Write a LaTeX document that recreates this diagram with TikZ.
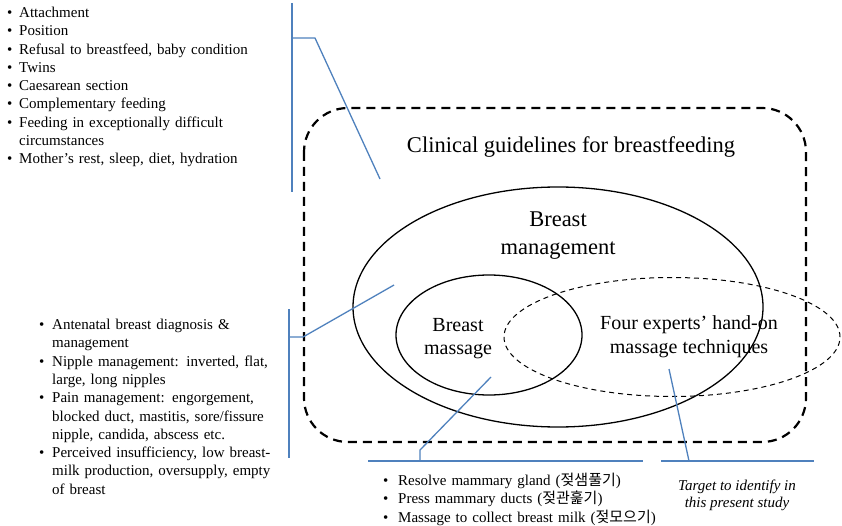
\documentclass[tikz,border=0pt]{standalone}
\usepackage{fontspec}
\setmainfont{Liberation Serif}
\newfontfamily\kofont{Noto Sans CJK KR}
\usetikzlibrary{shapes.geometric}
\definecolor{bracketblue}{RGB}{79,129,189}
\newcommand{\bitem}[2][12pt]{\par\hangindent=#1\hangafter=1\noindent\makebox[#1][l]{\textbullet}#2}
\newcommand{\firststrut}[1]{\rule{0pt}{#1}}
\begin{document}
\begin{tikzpicture}[x=1pt,y=-1pt,
  listtext/.style={inner sep=0pt, anchor=north west, align=left, font=\fontsize{15}{18.3}\selectfont},
  bigtext/.style={inner sep=0pt, anchor=north, align=center},
  blueline/.style={draw=bracketblue, line width=1.3pt},
  solidell/.style={ellipse, draw, line width=1.3pt, inner sep=0pt},
  dashell/.style={ellipse, draw, line width=1pt, dash pattern=on 5pt off 4pt, inner sep=0pt},
  guidebox/.style={draw, line width=2.2pt, dash pattern=on 9pt off 6pt, rounded corners=44pt}
]
\useasboundingbox (0,0) rectangle (842,526);

% dashed guidelines frame
\draw[guidebox] (304,108) rectangle (806,442);
\node[bigtext, font=\fontsize{22.5}{27}\selectfont] (title) at (571,134) {\firststrut{18pt}Clinical guidelines for breastfeeding};

% ellipses
\node[solidell, minimum width=410pt, minimum height=240pt] (bm) at (558,307) {};
\node[solidell, minimum width=186pt, minimum height=120pt] (bmas) at (489,335) {};
\node[dashell, minimum width=336pt, minimum height=119pt] (four) at (672,337) {};

\node[bigtext, font=\fontsize{22.5}{28}\selectfont] (bmtext) at (558,208) {\firststrut{18pt}Breast\\management};
\node[bigtext, font=\fontsize{20}{23}\selectfont] (bmastext) at (458,315) {\firststrut{16pt}Breast\\massage};
\node[bigtext, font=\fontsize{20}{24}\selectfont] (fourtext) at (689,313) {\firststrut{16pt}Four experts’ hand-on\\massage techniques};

% top-left list
\node[listtext, text width=330pt] (toplist) at (7,-1) {%
\bitem{\firststrut{14pt}Attachment}
\bitem{Position}
\bitem{Refusal to breastfeed, baby condition}
\bitem{Twins}
\bitem{Caesarean section}
\bitem{Complementary feeding}
\bitem{Feeding in exceptionally difficult\newline circumstances}
\bitem{Mother’s rest, sleep, diet, hydration}\par};

% middle-left list
\node[listtext, text width=300pt] (midlist) at (39,311) {%
\bitem[13pt]{\firststrut{14pt}Antenatal breast diagnosis \&\newline management}
\bitem[13pt]{Nipple management: inverted, flat,\newline large, long nipples}
\bitem[13pt]{Pain management: engorgement,\newline blocked duct, mastitis, sore/fissure\newline nipple, candida, abscess etc.}
\bitem[13pt]{Perceived insufficiency, low breast-\newline milk production, oversupply, empty\newline of breast}\par};

% bottom list
\node[listtext, text width=300pt] (botlist) at (383,467) {%
\bitem[15pt]{\firststrut{14pt}Resolve mammary gland ({\kofont 젖샘풀기})}
\bitem[15pt]{Press mammary ducts ({\kofont 젖관훑기})}
\bitem[15pt]{Massage to collect breast milk ({\kofont 젖모으기})}\par};

% target text
\node[bigtext, font=\fontsize{15}{17.5}\selectfont\itshape] (target) at (737,476) {\firststrut{14pt}Target to identify in\\this present study};

% blue brackets
\coordinate (ta) at (292,3);
\coordinate (tb) at (292,192);
\coordinate (tc) at (292,38);
\coordinate (td) at (315,38);
\coordinate (te) at (380,179);
\draw[blueline] (ta) -- (tb);
\draw[blueline] (tc) -- (td) -- (te);

\coordinate (ma) at (289,309);
\coordinate (mb) at (289,458);
\coordinate (mc) at (289,337);
\coordinate (md) at (303,337);
\coordinate (me) at (394,285);
\draw[blueline] (ma) -- (mb);
\draw[blueline] (mc) -- (md) -- (me);

\coordinate (ba) at (368,461);
\coordinate (bb) at (643,461);
\coordinate (bc) at (420,461);
\coordinate (bd) at (420,450);
\coordinate (be) at (491,377);
\draw[blueline] (ba) -- (bb);
\draw[blueline] (bc) -- (bd) -- (be);

\coordinate (ra) at (661,461);
\coordinate (rb) at (814,461);
\coordinate (rc) at (689,461);
\coordinate (rd) at (669,369);
\draw[blueline] (ra) -- (rb);
\draw[blueline] (rc) -- (rd);
\end{tikzpicture}
\end{document}
